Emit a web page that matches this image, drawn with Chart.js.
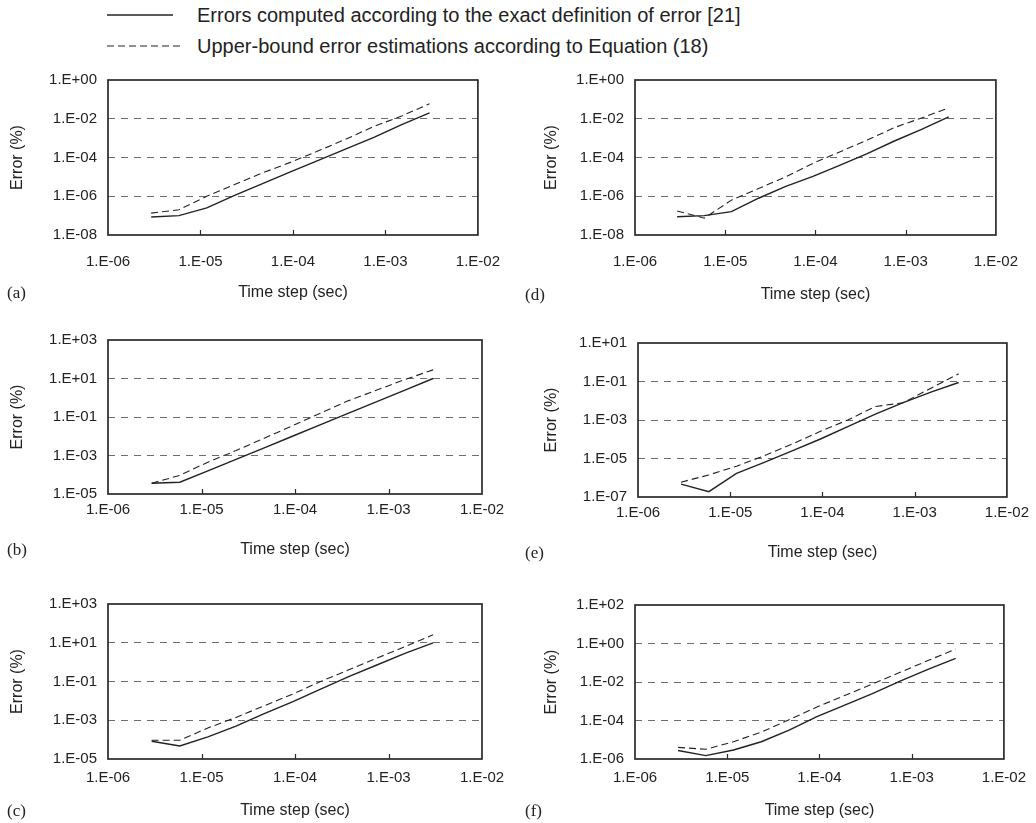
<!DOCTYPE html>
<html>
<head>
<meta charset="utf-8">
<title>Error vs time step</title>
<script src="https://cdn.jsdelivr.net/npm/chart.js@4/dist/chart.umd.min.js"></script>
<style>
  html, body { margin: 0; padding: 0; background: #fff; }
  body {
    width: 1036px; height: 823px; position: relative; overflow: hidden;
    font-family: "Liberation Sans", Arial, sans-serif; color: #222;
  }
  canvas { position: absolute; }
  .tag {
    position: absolute; font-family: "Liberation Serif", "Times New Roman", serif;
    font-size: 17px; line-height: 20px; color: #222;
  }
  .legend-text { position: absolute; left: 197px; font-size: 20px; line-height: 24px; white-space: nowrap; }
  .legend-line { position: absolute; left: 106px; }
</style>
</head>
<body>

<svg class="legend-line" style="top:13px" width="70" height="4">
  <line x1="1" y1="2" x2="67" y2="2" stroke="#222" stroke-width="1.4"/>
</svg>
<div class="legend-text" style="top:3px">Errors computed according to the exact definition of error [21]</div>
<svg class="legend-line" style="top:44px" width="78" height="4">
  <line x1="1" y1="2" x2="75" y2="2" stroke="#222" stroke-width="1.2" stroke-dasharray="7,4"/>
</svg>
<div class="legend-text" style="top:34px">Upper-bound error estimations according to Equation (18)</div>

<script>
// time steps (sec), same for all six cases
const timeSteps = [2.93e-6, 5.86e-6, 1.17e-5, 2.34e-5, 4.69e-5, 9.38e-5, 1.88e-4, 3.75e-4, 7.5e-4, 1.5e-3, 3.0e-3];

const xTicks = [1e-6, 1e-5, 1e-4, 1e-3, 1e-2];
const xTickLabels = ['1.E-06', '1.E-05', '1.E-04', '1.E-03', '1.E-02'];

// errors (%) - solid = exact definition, dashed = upper-bound estimate
const exactA = [8.5e-8, 1.0e-7, 2.5e-7, 1.1e-6, 4.5e-6, 1.8e-5, 7.1e-5, 2.8e-4, 1.1e-3, 5.0e-3, 2.0e-2];
const boundA = [1.35e-7, 2.0e-7, 1.0e-6, 4.0e-6, 1.6e-5, 5.6e-5, 2.2e-4, 8.9e-4, 4.0e-3, 1.4e-2, 5.9e-2];

const exactB = [3.6e-5, 4.1e-5, 1.6e-4, 6.3e-4, 2.5e-3, 1.0e-2, 4.0e-2, 0.16, 0.63, 2.5, 10];
const boundB = [3.6e-5, 9.3e-5, 4.5e-4, 1.8e-3, 7.9e-3, 3.5e-2, 0.16, 0.71, 2.5, 8.9, 28];

const exactC = [8.3e-5, 4.7e-5, 1.4e-4, 5.0e-4, 2.2e-3, 8.9e-3, 4.0e-2, 0.18, 0.71, 2.8, 9.8];
const boundC = [9.3e-5, 9.3e-5, 4.0e-4, 1.4e-3, 5.6e-3, 2.2e-2, 0.1, 0.4, 1.6, 6.3, 26];

const exactD = [8.7e-8, 1.0e-7, 1.6e-7, 7.9e-7, 3.2e-6, 1.05e-5, 4.0e-5, 1.6e-4, 7.1e-4, 2.8e-3, 1.26e-2];
const boundD = [1.75e-7, 7.4e-8, 6.3e-7, 2.5e-6, 1.0e-5, 5.0e-5, 2.0e-4, 7.9e-4, 3.5e-3, 1.1e-2, 3.6e-2];

const exactE = [4.7e-7, 1.9e-7, 1.7e-6, 6.3e-6, 2.5e-5, 1.0e-4, 4.5e-4, 2.0e-3, 7.9e-3, 2.8e-2, 8.9e-2];
const boundE = [5.9e-7, 1.4e-6, 4.0e-6, 1.4e-5, 5.6e-5, 2.5e-4, 1.0e-3, 5.0e-3, 7.9e-3, 4.5e-2, 0.25];

const exactF = [2.75e-6, 1.5e-6, 2.95e-6, 7.9e-6, 3.2e-5, 1.6e-4, 6.3e-4, 2.5e-3, 1.1e-2, 4.5e-2, 0.17];
const boundF = [4.0e-6, 3.2e-6, 7.9e-6, 2.5e-5, 1.1e-4, 5.0e-4, 2.0e-3, 7.9e-3, 3.2e-2, 0.13, 0.51];

// y ticks per panel
const yTicksAD = [1e-8, 1e-6, 1e-4, 1e-2, 1e0];
const yLabelsAD = ['1.E-08', '1.E-06', '1.E-04', '1.E-02', '1.E+00'];
const yTicksBC = [1e-5, 1e-3, 1e-1, 1e1, 1e3];
const yLabelsBC = ['1.E-05', '1.E-03', '1.E-01', '1.E+01', '1.E+03'];
const yTicksE = [1e-7, 1e-5, 1e-3, 1e-1, 1e1];
const yLabelsE = ['1.E-07', '1.E-05', '1.E-03', '1.E-01', '1.E+01'];
const yTicksF = [1e-6, 1e-4, 1e-2, 1e0, 1e2];
const yLabelsF = ['1.E-06', '1.E-04', '1.E-02', '1.E+00', '1.E+02'];

const INK = '#222';

// box around the plot + short inward ticks on the time axis
const framePlugin = {
  id: 'frame',
  afterDraw(chart) {
    const { ctx, chartArea: a } = chart;
    const x = chart.scales.x;
    ctx.save();
    ctx.strokeStyle = '#2a2a2a';
    ctx.lineWidth = 1.7;
    ctx.strokeRect(a.left, a.top, a.right - a.left, a.bottom - a.top);
    ctx.lineWidth = 1.2;
    x.ticks.slice(1, -1).forEach(t => {
      const px = Math.round(x.getPixelForValue(t.value)) + 0.5;
      ctx.beginPath();
      ctx.moveTo(px, a.bottom);
      ctx.lineTo(px, a.bottom - 5);
      ctx.stroke();
    });
    ctx.restore();
  }
};

function makePanel(p) {
  const canvasTop = p.top - 15;
  const canvasBottom = p.titleY + 11;
  const cv = document.createElement('canvas');
  cv.width = 518;
  cv.height = canvasBottom - canvasTop;
  cv.style.left = p.col + 'px';
  cv.style.top = canvasTop + 'px';
  document.body.appendChild(cv);

  const tag = document.createElement('div');
  tag.className = 'tag';
  tag.textContent = '(' + p.name + ')';
  tag.style.left = (p.col + 7) + 'px';
  tag.style.top = (p.titleY - 10) + 'px';
  document.body.appendChild(tag);

  const last = p.yTicks.length - 1;
  const tickFont = { family: '"Liberation Sans", Arial, sans-serif', size: 15 };
  const titleFont = { family: '"Liberation Sans", Arial, sans-serif', size: 16 };

  new Chart(cv, {
    type: 'line',
    data: {
      datasets: [
        {
          label: 'Errors computed according to the exact definition of error [21]',
          data: timeSteps.map((t, i) => ({ x: t, y: p.exact[i] })),
          borderColor: INK,
          borderWidth: 1.4,
          pointRadius: 0,
          tension: 0,
          fill: false
        },
        {
          label: 'Upper-bound error estimations according to Equation (18)',
          data: timeSteps.map((t, i) => ({ x: t, y: p.bound[i] })),
          borderColor: INK,
          borderWidth: 1.1,
          borderDash: [7, 4],
          pointRadius: 0,
          tension: 0,
          fill: false
        }
      ]
    },
    options: {
      responsive: false,
      animation: false,
      events: [],
      layout: { padding: { top: 15, right: p.col + 518 - p.right, left: 0, bottom: 0 } },
      plugins: { legend: { display: false }, tooltip: { enabled: false } },
      scales: {
        x: {
          type: 'logarithmic',
          min: 1e-6,
          max: 1e-2,
          afterBuildTicks: s => { s.ticks = xTicks.map(v => ({ value: v })); },
          afterFit: s => { s.height = canvasBottom - p.bottom; },
          grid: { display: false, drawTicks: false },
          border: { display: false },
          ticks: {
            autoSkip: false,
            maxRotation: 0,
            padding: p.tickY - p.bottom - 9,
            color: INK,
            font: tickFont,
            callback: (v, i) => xTickLabels[i]
          },
          title: {
            display: true,
            text: 'Time step (sec)',
            color: INK,
            font: titleFont,
            padding: { top: 0, bottom: canvasBottom - p.titleY - 9.6 }
          }
        },
        y: {
          type: 'logarithmic',
          min: p.yTicks[0],
          max: p.yTicks[last],
          afterBuildTicks: s => { s.ticks = p.yTicks.map(v => ({ value: v })); },
          afterFit: s => { s.width = p.left - p.col; },
          grid: {
            drawTicks: false,
            lineWidth: 1,
            color: c => (c.index === 0 || c.index === last) ? 'rgba(0,0,0,0)' : '#6e6e6e'
          },
          border: { display: false, dash: [7, 6] },
          ticks: {
            autoSkip: false,
            padding: 11,
            color: INK,
            font: tickFont,
            callback: (v, i) => p.yLabels[i]
          },
          title: {
            display: true,
            text: 'Error (%)',
            color: INK,
            font: titleFont,
            padding: { top: p.yTitleX - p.col - 9.6, bottom: 0 }
          }
        }
      }
    },
    plugins: [framePlugin]
  });
}

const panels = [
  { name: 'a', exact: exactA, bound: boundA, yTicks: yTicksAD, yLabels: yLabelsAD,
    col: 0, top: 75, bottom: 235, left: 108, right: 482, tickY: 262, titleY: 293, yTitleX: 18 },
  { name: 'b', exact: exactB, bound: boundB, yTicks: yTicksBC, yLabels: yLabelsBC,
    col: 0, top: 335, bottom: 494, left: 108, right: 482, tickY: 510, titleY: 550, yTitleX: 18 },
  { name: 'c', exact: exactC, bound: boundC, yTicks: yTicksBC, yLabels: yLabelsBC,
    col: 0, top: 599, bottom: 759, left: 108, right: 482, tickY: 778, titleY: 811, yTitleX: 18 },
  { name: 'd', exact: exactD, bound: boundD, yTicks: yTicksAD, yLabels: yLabelsAD,
    col: 518, top: 75, bottom: 235, left: 635, right: 1009, tickY: 262, titleY: 295, yTitleX: 552 },
  { name: 'e', exact: exactE, bound: boundE, yTicks: yTicksE, yLabels: yLabelsE,
    col: 518, top: 338, bottom: 497, left: 638, right: 1011, tickY: 513, titleY: 553, yTitleX: 552 },
  { name: 'f', exact: exactF, bound: boundF, yTicks: yTicksF, yLabels: yLabelsF,
    col: 518, top: 600, bottom: 759, left: 635, right: 1009, tickY: 778, titleY: 811, yTitleX: 552 }
];

panels.forEach(makePanel);
</script>
</body>
</html>
